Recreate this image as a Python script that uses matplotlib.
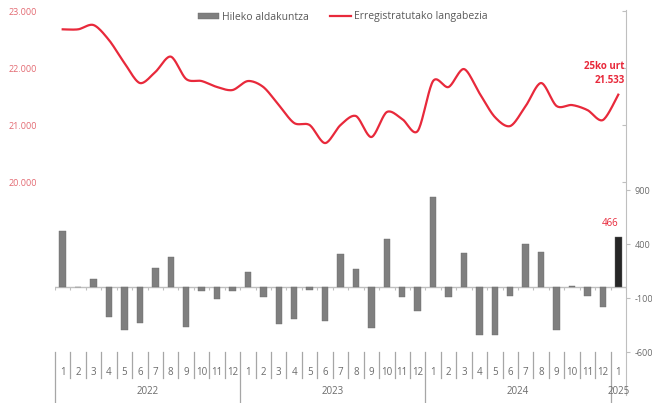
import matplotlib.pyplot as plt
import matplotlib.transforms as mtransforms
from matplotlib.lines import Line2D
from matplotlib.patches import Patch
import numpy as np

plt.rcParams['font.family'] = ['Open Sans', 'DejaVu Sans']

# datuak: 2022-01 .. 2025-01
hilabeteak = [str(m) for m in range(1, 13)] * 3 + ['1']
urteak = ['2022', '2023', '2024', '2025']
urte_hasiera = [0, 12, 24, 36]

langabezia = [22679, 22679, 22754, 22490, 22088, 21737, 21930, 22200, 21807,
              21772, 21667, 21614, 21772, 21667, 21351, 21035, 21000, 20684,
              21000, 21158, 20790, 21228, 21105, 20895, 21772, 21667, 21982,
              21560, 21141, 20983, 21334, 21737, 21334, 21351, 21263, 21088,
              21533]
aldakuntza = [523, 0, 76, -273, -396, -334, 181, 277, -365, -35, -109, -35,
              141, -88, -344, -291, -23, -310, 307, 171, -381, 446, -94, -217,
              838, -88, 320, -443, -443, -79, 403, 329, -396, 8, -79, -180,
              466]

GRIS = '#7f7f7f'
GORRIA = '#e8293b'
TESTUA = '#6b6b6b'

fig = plt.figure(figsize=(6.52, 4.03), dpi=100)
ax = fig.add_axes([55 / 652, 8 / 403, 571 / 652, 385 / 403])
ax2 = ax.twinx()
ax.set_zorder(ax2.get_zorder() + 1)
ax.patch.set_visible(False)
x = np.arange(len(aldakuntza))

# barrak
kolorea = [GRIS] * (len(aldakuntza) - 1) + ['#262626']
ax.bar(x, aldakuntza, width=0.42, color=kolorea, edgecolor='#6a6a6a', linewidth=0.3, zorder=3)
ax.set_xlim(-0.5, len(x) - 0.5)
ax.set_ylim(-998, 2567)
ax.axhline(0, color='#bfbfbf', lw=1.0, zorder=2)
ax.vlines(np.arange(len(x) + 1) - 0.5, -30, 0, color='#bfbfbf', lw=0.8, zorder=2)
ax.text(x[-1], aldakuntza[-1] + 70, f'{aldakuntza[-1]}', color=GORRIA, fontsize=7,
        ha='right', va='bottom')

for s in ['top', 'left', 'bottom']:
    ax.spines[s].set_visible(False)
ax.spines['right'].set_color('#bfbfbf')
ax.yaxis.set_ticks_position('right')
ax.yaxis.set_label_position('right')
ax.set_yticks([900, 400, -100, -600])
ax.set_yticklabels(['900', '400', '-100', '-600'])
ax.tick_params(axis='y', left=False, labelleft=False, right=True, labelright=True,
               colors='#bfbfbf', labelcolor=TESTUA, labelsize=6.5, length=3, pad=3)

# kategoria ardatza
ax.set_xticks(x)
ax.set_xticklabels(hilabeteak)
ax.tick_params(axis='x', length=0, labelsize=7, labelcolor=TESTUA)
for lbl in ax.get_xticklabels():
    lbl.set_y((395 - 368) / 385)
    lbl.set_va('center')
trans = mtransforms.blended_transform_factory(ax.transData, ax.transAxes)
for b in np.arange(len(x)) - 0.5:
    urte_muga = (b + 0.5) in urte_hasiera
    y1 = -0.02 if urte_muga else 0.045
    ax.plot([b, b], [0.112, y1], transform=trans, color='#a6a6a6', lw=0.9, clip_on=False)
for i, u in enumerate(urteak):
    hasi = urte_hasiera[i]
    amai = urte_hasiera[i + 1] if i + 1 < len(urte_hasiera) else len(x)
    ax.text((hasi + amai - 1) / 2, (395 - 392) / 385, u, transform=trans, ha='center',
            va='center', fontsize=7, color=TESTUA)

# lerroa
ax2.set_ylim(16265, 23018)
for s in ['top', 'left', 'bottom', 'right']:
    ax2.spines[s].set_visible(False)
ax2.set_yticks([20000, 21000, 22000, 23000])
ax2.set_yticklabels(['20.000', '21.000', '22.000', '23.000'])
ax2.tick_params(axis='y', left=False, labelleft=True, right=True, labelright=False,
                direction='in', length=3, color='#bfbfbf', labelcolor='#e36a72',
                labelsize=6.5, pad=13)

# Catmull-Rom leuntzea marrazteko
def leundu(xs, ys, n=20):
    xs = np.asarray(xs, float)
    ys = np.asarray(ys, float)
    px = np.concatenate([[xs[0]], xs, [xs[-1]]])
    py = np.concatenate([[ys[0]], ys, [ys[-1]]])
    ox, oy = [], []
    for i in range(1, len(px) - 2):
        t = np.linspace(0, 1, n, endpoint=False)
        for p, o in ((px, ox), (py, oy)):
            p0, p1, p2, p3 = p[i - 1], p[i], p[i + 1], p[i + 2]
            m1 = (p2 - p0) / 2 * 0.9
            m2 = (p3 - p1) / 2 * 0.9
            h00 = 2 * t**3 - 3 * t**2 + 1
            h10 = t**3 - 2 * t**2 + t
            h01 = -2 * t**3 + 3 * t**2
            h11 = t**3 - t**2
            o.extend(h00 * p1 + h10 * m1 + h01 * p2 + h11 * m2)
    ox.append(xs[-1])
    oy.append(ys[-1])
    return ox, oy

lx, ly = leundu(x, langabezia)
ax2.plot(lx, ly, color=GORRIA, lw=1.6, zorder=4)
ax2.text(x[-1] + 0.4, langabezia[-1] + 160, "25ko urt\n21.533", color=GORRIA, fontsize=7,
         ha='right', va='bottom', fontweight='bold', linespacing=1.3)

# legenda
handles = [Patch(facecolor=GRIS, edgecolor='#6a6a6a', linewidth=0.3),
           Line2D([0], [0], color=GORRIA, lw=1.6)]
fig.legend(handles, ['Hileko aldakuntza', 'Erregistratutako langabezia'],
           loc='center', bbox_to_anchor=(343 / 652, 1 - 17 / 403), ncol=2, frameon=False,
           fontsize=7.5, labelcolor='#595959', handlelength=2.0, handleheight=0.6,
           columnspacing=2.0, handletextpad=0.3)

fig.savefig('out.png', dpi=100)
